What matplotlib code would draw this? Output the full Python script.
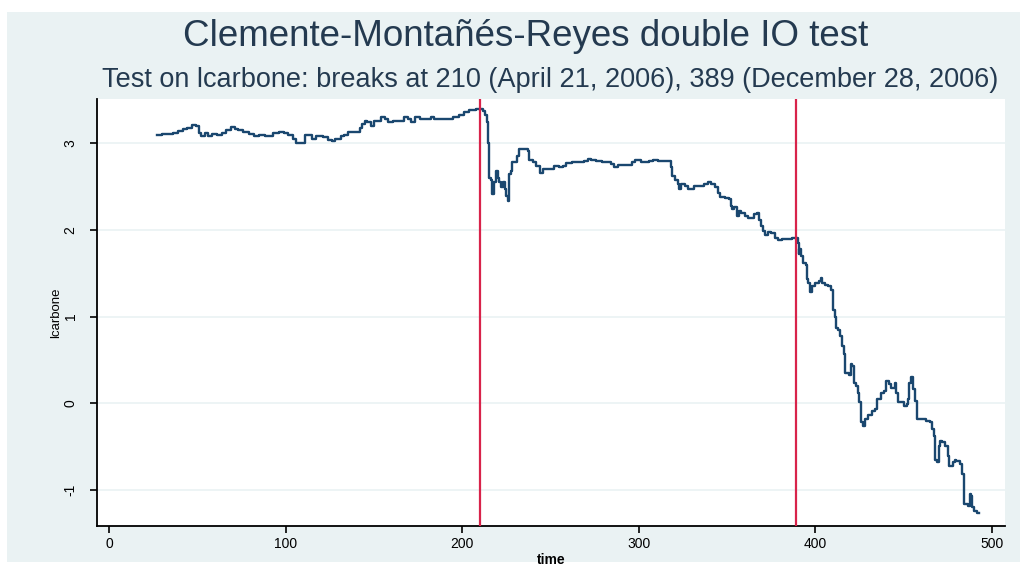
import matplotlib
matplotlib.use("Agg")
import matplotlib.pyplot as plt
from matplotlib.patches import Rectangle

# lcarbone series
time = [27, 30, 32, 36, 39, 42, 44, 47, 49, 51,
        52, 54, 56, 58, 61, 64, 66, 69, 71, 73,
        76, 79, 82, 85, 88, 90, 93, 96, 99, 101,
        104, 106, 109, 111, 114, 115, 117, 121, 124, 126,
        128, 131, 133, 135, 138, 140, 142, 143, 145, 146,
        148, 150, 152, 154, 156, 158, 161, 165, 167, 169,
        171, 173, 176, 180, 182, 184, 189, 193, 195, 198,
        201, 204, 208, 211, 212, 213, 214, 214.5, 215, 216,
        217, 218, 219, 220, 221, 222, 223, 224, 225, 226,
        226.5, 227.5, 228, 230, 231, 232, 235, 237, 238, 240,
        242, 244, 246, 250, 252, 255, 257, 259, 262, 266,
        269, 271, 273, 276, 279, 282, 284, 286, 288, 293,
        296, 298, 301, 304, 306, 308, 311, 315, 317, 318,
        319, 320.5, 322, 323, 324, 326, 328, 331, 335, 337,
        339, 341, 343, 345, 346, 349, 351, 352, 353, 354,
        355.5, 357, 358, 360, 362, 365, 367, 368, 369, 370.5,
        371.5, 373, 375, 377, 379, 381, 384, 387, 389, 390,
        390.5, 391, 392, 393, 395, 395.5, 396, 397, 398, 400,
        402, 403, 404, 405.5, 407, 409, 410, 411, 412, 413,
        414, 415, 416, 417, 419, 420, 421, 422, 423, 424,
        425, 426, 427, 428, 430, 432, 434, 435, 437, 439,
        440, 442, 443, 445, 446, 447, 450, 452, 452.5, 453,
        454.5, 455.5, 456.5, 457.5, 460, 463, 465, 466, 467, 468,
        469, 470, 470.5, 472, 473.5, 475, 476, 478, 479, 480,
        482, 483, 484, 485, 486.5, 487.5, 488.5, 489, 490, 491.5,
        493]
lcarbone = [3.09, 3.11, 3.11, 3.12, 3.14, 3.16, 3.18, 3.21, 3.20, 3.12,
            3.08, 3.12, 3.08, 3.11, 3.10, 3.12, 3.15, 3.19, 3.16, 3.15,
            3.13, 3.11, 3.08, 3.10, 3.08, 3.08, 3.12, 3.13, 3.12, 3.09,
            3.05, 3.00, 3.00, 3.09, 3.09, 3.05, 3.08, 3.07, 3.04, 3.02,
            3.05, 3.08, 3.09, 3.13, 3.13, 3.13, 3.18, 3.22, 3.26, 3.24,
            3.20, 3.26, 3.26, 3.30, 3.28, 3.24, 3.26, 3.26, 3.30, 3.28,
            3.25, 3.30, 3.28, 3.28, 3.30, 3.28, 3.28, 3.28, 3.30, 3.33,
            3.36, 3.38, 3.39, 3.39, 3.37, 3.33, 3.24, 3.00, 2.60, 2.58,
            2.41, 2.55, 2.68, 2.60, 2.55, 2.49, 2.55, 2.47, 2.39, 2.33,
            2.64, 2.68, 2.78, 2.78, 2.85, 2.93, 2.93, 2.91, 2.81, 2.78,
            2.74, 2.66, 2.70, 2.70, 2.74, 2.72, 2.74, 2.77, 2.78, 2.78,
            2.79, 2.82, 2.81, 2.79, 2.78, 2.78, 2.76, 2.73, 2.75, 2.75,
            2.78, 2.81, 2.78, 2.78, 2.79, 2.81, 2.79, 2.79, 2.79, 2.72,
            2.62, 2.58, 2.53, 2.47, 2.53, 2.51, 2.47, 2.51, 2.51, 2.53,
            2.55, 2.53, 2.49, 2.43, 2.38, 2.37, 2.36, 2.28, 2.24, 2.26,
            2.16, 2.22, 2.20, 2.16, 2.14, 2.18, 2.19, 2.12, 2.05, 1.99,
            1.94, 1.98, 1.97, 1.91, 1.88, 1.90, 1.90, 1.91, 1.91, 1.85,
            1.72, 1.78, 1.70, 1.62, 1.60, 1.43, 1.39, 1.28, 1.35, 1.39,
            1.41, 1.45, 1.39, 1.37, 1.35, 1.31, 1.08, 0.99, 0.87, 0.85,
            0.78, 0.66, 0.57, 0.35, 0.33, 0.45, 0.43, 0.24, 0.20, 0.12,
            0.01, -0.22, -0.26, -0.18, -0.13, -0.09, -0.07, 0.05, 0.12, 0.14,
            0.26, 0.22, 0.18, 0.24, 0.12, 0.01, -0.03, -0.01, 0.05, 0.24,
            0.30, 0.16, 0.03, -0.18, -0.18, -0.20, -0.22, -0.30, -0.38, -0.65,
            -0.68, -0.49, -0.43, -0.45, -0.49, -0.61, -0.72, -0.68, -0.65, -0.66,
            -0.70, -0.82, -1.16, -1.16, -1.18, -1.05, -1.07, -1.20, -1.24, -1.27,
            -1.27]
breaks = [210, 389]
xticks = [0, 100, 200, 300, 400, 500]
yticks = [-1, 0, 1, 2, 3]

bg = "#EAF2F3"
plt.rcParams["font.family"] = ["Liberation Sans", "DejaVu Sans"]

fig = plt.figure(figsize=(10.26, 5.67), dpi=100)
fig.patches.append(Rectangle((7 / 1026, 5 / 567), 1013 / 1026, 550 / 567,
                             transform=fig.transFigure, facecolor=bg,
                             edgecolor="none", zorder=-10))

ax = fig.add_axes([97 / 1026, 41 / 567, 908 / 1026, 427 / 567])
ax.set_facecolor("white")
ax.plot(time, lcarbone, color="#1A476F", lw=1.7, zorder=3, drawstyle="steps-post")
for b in breaks:
    ax.axvline(b, color="#D8234A", lw=1.6, zorder=4)

ax.set_xlim(-7, 507.5)
ax.set_ylim(-1.415, 3.51)
ax.set_xticks(xticks)
ax.set_yticks(yticks)
ax.set_yticklabels([str(v) for v in yticks], rotation=90, va="center")
ax.grid(axis="y", color=bg, lw=1.2)
ax.set_axisbelow(True)
for s in ["top", "right"]:
    ax.spines[s].set_visible(False)
for s in ["left", "bottom"]:
    ax.spines[s].set_color("black")
    ax.spines[s].set_linewidth(1.3)
ax.tick_params(direction="out", length=5, width=1.2, labelsize=10, color="black")
ax.tick_params(axis="y", pad=9)
ax.tick_params(axis="x", pad=3)
ax.set_xlabel("time", fontsize=10, fontweight="bold", labelpad=1)
ax.set_ylabel("lcarbone", fontsize=9.5, labelpad=1)

fig.text(0.512, 1 - 37 / 567, "Clemente-Montañés-Reyes double IO test",
         ha="center", va="center", fontsize=26.5, color="#243A50")
fig.text(0.536, 1 - 80 / 567,
         "Test on lcarbone: breaks at 210 (April 21, 2006), 389 (December 28, 2006)",
         ha="center", va="center", fontsize=19.5, color="#243A50")

fig.savefig("out.png", dpi=100, facecolor="white")
